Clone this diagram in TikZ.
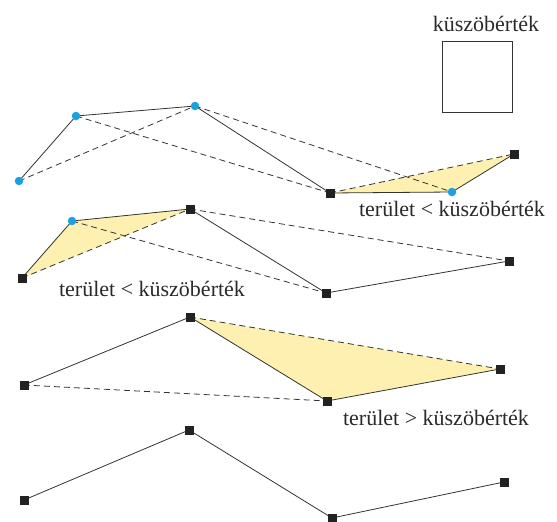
\documentclass[tikz,border=0pt]{standalone}
\usepackage{fontspec}
\setmainfont{Liberation Serif}
\definecolor{sqc}{HTML}{222222}
\definecolor{dotc}{HTML}{1BA1E2}
\definecolor{areac}{HTML}{FDF0B0}
\definecolor{linec}{HTML}{333333}
\definecolor{textc}{HTML}{2A2A2A}
\begin{document}
\begin{tikzpicture}[x=1pt,y=-1pt,
  sq/.style={rectangle,fill=sqc,minimum size=9pt,inner sep=0pt},
  bl/.style={circle,fill=dotc,minimum size=8.5pt,inner sep=0pt},
  ln/.style={draw=linec,line width=0.8pt},
  dl/.style={ln,dash pattern=on 6pt off 4pt},
  ar/.style={fill=areac},
  lbl/.style={font=\fontsize{22}{26}\selectfont,text=textc,inner sep=0pt}]
\useasboundingbox (0,0) rectangle (557,522);
% threshold box
\node[lbl] (tl) at (486,24) {küszöbérték};
\node[draw=linec,line width=0.9pt,minimum width=70pt,minimum height=71pt,inner sep=0pt] (box) at (477,76.5) {};
% row 1
\coordinate (a1) at (19,181); \coordinate (b1) at (76,116); \coordinate (c1) at (195,106);
\coordinate (d1) at (330,193); \coordinate (e1) at (452,192); \coordinate (f1) at (514,154);
\fill[ar] (d1) -- (e1) -- (f1) -- cycle;
\draw[ln] (a1) -- (b1) -- (c1) -- (d1) -- (e1) -- (f1);
\draw[dl] (a1) -- (c1);
\draw[dl] (b1) -- (d1);
\draw[dl] (c1) -- (e1);
\draw[dl] (d1) -- (f1);
\node[bl] (A1) at (a1) {}; \node[bl] (B1) at (b1) {}; \node[bl] (C1) at (c1) {};
\node[sq] (D1) at (d1) {}; \node[bl] (E1) at (e1) {}; \node[sq] (F1) at (f1) {};
\node[lbl] (l1) at (452,209) {terület < küszöbérték};
% row 2
\coordinate (a2) at (22,278); \coordinate (b2) at (72,221); \coordinate (c2) at (190,209);
\coordinate (d2) at (326,293); \coordinate (f2) at (509,261);
\fill[ar] (a2) -- (b2) -- (c2) -- cycle;
\draw[ln] (a2) -- (b2) -- (c2) -- (d2) -- (f2);
\draw[dl] (a2) -- (c2);
\draw[dl] (b2) -- (d2);
\draw[dl] (c2) -- (f2);
\node[sq] (A2) at (a2) {}; \node[bl] (B2) at (b2) {}; \node[sq] (C2) at (c2) {};
\node[sq] (D2) at (d2) {}; \node[sq] (F2) at (f2) {};
\node[lbl] (l2) at (152,289) {terület < küszöbérték};
% row 3
\coordinate (a3) at (24,385); \coordinate (c3) at (190,317);
\coordinate (d3) at (327,401); \coordinate (f3) at (500,369);
\fill[ar] (c3) -- (d3) -- (f3) -- cycle;
\draw[ln] (a3) -- (c3) -- (d3) -- (f3);
\draw[dl] (a3) -- (d3);
\draw[dl] (c3) -- (f3);
\node[sq] (A3) at (a3) {}; \node[sq] (C3) at (c3) {};
\node[sq] (D3) at (d3) {}; \node[sq] (F3) at (f3) {};
\node[lbl] (l3) at (436,418) {terület > küszöbérték};
% row 4
\coordinate (a4) at (24,500); \coordinate (c4) at (189,430);
\coordinate (d4) at (332,518); \coordinate (f4) at (504,482);
\draw[ln] (a4) -- (c4) -- (d4) -- (f4);
\node[sq] (A4) at (a4) {}; \node[sq] (C4) at (c4) {};
\node[sq] (D4) at (d4) {}; \node[sq] (F4) at (f4) {};
\end{tikzpicture}
\end{document}
